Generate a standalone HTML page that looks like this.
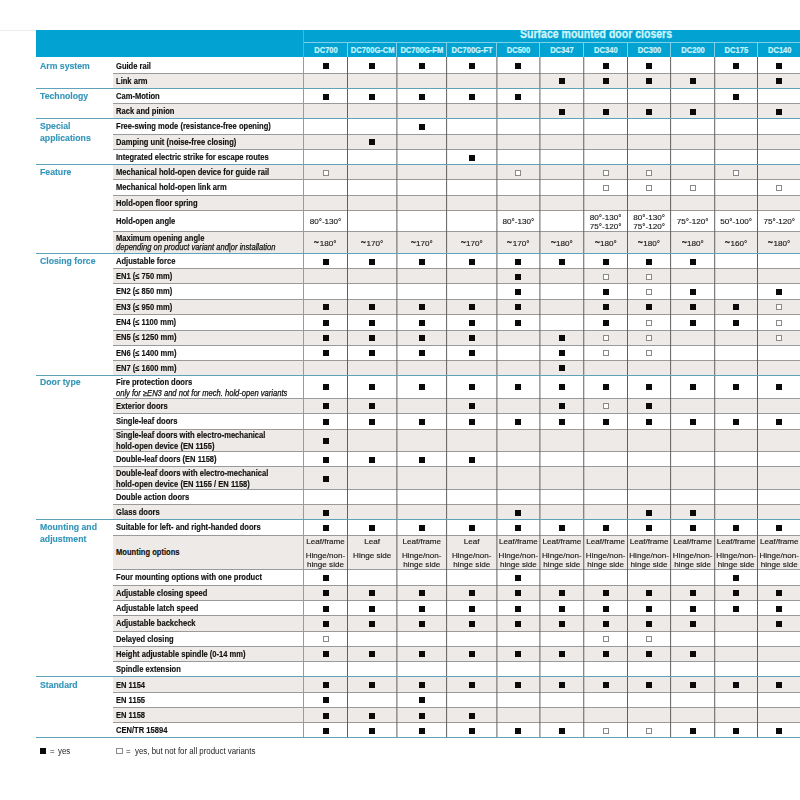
<!DOCTYPE html><html><head><meta charset="utf-8"><style>
*{margin:0;padding:0;box-sizing:border-box}
html,body{width:800px;height:800px;overflow:hidden;background:#fff;font-family:"Liberation Sans",sans-serif}
body{position:relative}
.wrap{left:0;top:0;width:800px;height:800px;filter:blur(0.35px)}
div{position:absolute}
.tl{left:0;top:30px;width:36px;height:1px;background:#ececec}
.hdr{left:36px;top:30px;width:764px;height:27px;background:#02a2d2;overflow:hidden}
.ttl{left:484px;font-weight:bold;font-size:12px;line-height:14px;color:#cdf5fd;-webkit-text-stroke:0.3px #cdf5fd;white-space:nowrap;transform:scaleX(0.877);transform-origin:0 0}
.hv{width:1px;background:#7dd0ea}
.hh{height:1px;background:#7dd0ea}
.dc{text-align:center;font-weight:bold;font-size:8.5px;line-height:10px;color:#cdf5fd;-webkit-text-stroke:0.2px #cdf5fd;white-space:nowrap;transform:scaleX(0.89)}
.gs{left:113px;width:687px;background:#edeae7}
.rl{left:113px;width:687px;height:1px;background:#9a9a9a}
.sl{left:36px;width:764px;height:1px;background:#5fa3ba}
.cl{width:1px;background:#606060}
.bv{width:1px;background:#6eaabc}
.sec{left:39.8px;font-weight:bold;font-size:9.3px;line-height:12px;color:#3595b9;-webkit-text-stroke:0.15px #3595b9;white-space:nowrap;transform:scaleX(0.935);transform-origin:0 0}
.lab{left:115.6px;font-weight:bold;font-size:8.2px;line-height:12px;color:#111;-webkit-text-stroke:0.15px #111;white-space:nowrap;transform:scaleX(0.925);transform-origin:0 0}
.sub{left:115.6px;font-style:italic;font-size:8.2px;line-height:12px;color:#111;-webkit-text-stroke:0.25px #111;white-space:nowrap;transform:scaleX(0.925);transform-origin:0 0}
.sq{width:6px;height:6px;background:#0a0a0a}
.esq{width:6px;height:6px;border:1px solid #8a8a8a;background:#fff}
.tx{text-align:center;font-size:8.1px;line-height:10px;color:#1a1a1a;-webkit-text-stroke:0.15px #1a1a1a;white-space:nowrap}
.tl2{display:inline-block;transform:scale(1.1,1.9);transform-origin:50% 60%;margin-right:0.6px}
.leg{font-size:8.4px;color:#222;white-space:nowrap;line-height:10px;transform:scaleX(0.94);transform-origin:0 0}
</style></head><body><div class="wrap">
<div class="tl"></div>
<div class="hdr"><div class="ttl" style="top:-3.00px">Surface mounted door closers</div></div>
<div class="hv" style="left:303px;top:30px;height:27px"></div>
<div class="hh" style="left:303px;top:42px;width:497px"></div>
<div class="hv" style="left:347px;top:42px;height:15px"></div>
<div class="hv" style="left:396px;top:42px;height:15px"></div>
<div class="hv" style="left:446px;top:42px;height:15px"></div>
<div class="hv" style="left:496px;top:42px;height:15px"></div>
<div class="hv" style="left:539px;top:42px;height:15px"></div>
<div class="hv" style="left:583px;top:42px;height:15px"></div>
<div class="hv" style="left:627px;top:42px;height:15px"></div>
<div class="hv" style="left:670px;top:42px;height:15px"></div>
<div class="hv" style="left:714px;top:42px;height:15px"></div>
<div class="hv" style="left:757px;top:42px;height:15px"></div>
<div class="dc" style="left:303.5px;width:44.0px;top:45.00px">DC700</div>
<div class="dc" style="left:347.5px;width:49.39999999999998px;top:45.00px">DC700G-CM</div>
<div class="dc" style="left:396.9px;width:49.700000000000045px;top:45.00px">DC700G-FM</div>
<div class="dc" style="left:446.6px;width:50.299999999999955px;top:45.00px">DC700G-FT</div>
<div class="dc" style="left:496.9px;width:43.0px;top:45.00px">DC500</div>
<div class="dc" style="left:539.9px;width:43.85000000000002px;top:45.00px">DC347</div>
<div class="dc" style="left:583.75px;width:43.75px;top:45.00px">DC340</div>
<div class="dc" style="left:627.5px;width:43.10000000000002px;top:45.00px">DC300</div>
<div class="dc" style="left:670.6px;width:44.10000000000002px;top:45.00px">DC200</div>
<div class="dc" style="left:714.7px;width:42.799999999999955px;top:45.00px">DC175</div>
<div class="dc" style="left:757.5px;width:43.5px;top:45.00px">DC140</div>
<div class="gs" style="top:73px;height:15px"></div>
<div class="gs" style="top:103px;height:15px"></div>
<div class="gs" style="top:134px;height:15px"></div>
<div class="gs" style="top:164px;height:15px"></div>
<div class="gs" style="top:195px;height:15px"></div>
<div class="gs" style="top:231px;height:22px"></div>
<div class="gs" style="top:268px;height:15px"></div>
<div class="gs" style="top:299px;height:15px"></div>
<div class="gs" style="top:330px;height:15px"></div>
<div class="gs" style="top:360px;height:15px"></div>
<div class="gs" style="top:398px;height:15px"></div>
<div class="gs" style="top:429px;height:22px"></div>
<div class="gs" style="top:466px;height:23px"></div>
<div class="gs" style="top:504px;height:15px"></div>
<div class="gs" style="top:535px;height:34px"></div>
<div class="gs" style="top:585px;height:15px"></div>
<div class="gs" style="top:615px;height:16px"></div>
<div class="gs" style="top:646px;height:15px"></div>
<div class="gs" style="top:676px;height:16px"></div>
<div class="gs" style="top:707px;height:15px"></div>
<div class="rl" style="top:73px"></div>
<div class="rl" style="top:103px"></div>
<div class="rl" style="top:134px"></div>
<div class="rl" style="top:149px"></div>
<div class="rl" style="top:179px"></div>
<div class="rl" style="top:195px"></div>
<div class="rl" style="top:210px"></div>
<div class="rl" style="top:231px"></div>
<div class="rl" style="top:268px"></div>
<div class="rl" style="top:283px"></div>
<div class="rl" style="top:299px"></div>
<div class="rl" style="top:314px"></div>
<div class="rl" style="top:330px"></div>
<div class="rl" style="top:345px"></div>
<div class="rl" style="top:360px"></div>
<div class="rl" style="top:398px"></div>
<div class="rl" style="top:413px"></div>
<div class="rl" style="top:429px"></div>
<div class="rl" style="top:451px"></div>
<div class="rl" style="top:466px"></div>
<div class="rl" style="top:489px"></div>
<div class="rl" style="top:504px"></div>
<div class="rl" style="top:535px"></div>
<div class="rl" style="top:569px"></div>
<div class="rl" style="top:585px"></div>
<div class="rl" style="top:600px"></div>
<div class="rl" style="top:615px"></div>
<div class="rl" style="top:631px"></div>
<div class="rl" style="top:646px"></div>
<div class="rl" style="top:661px"></div>
<div class="rl" style="top:692px"></div>
<div class="rl" style="top:707px"></div>
<div class="rl" style="top:722px"></div>
<div class="cl" style="left:347px;top:57px;height:680px;opacity:1.00"></div>
<div class="cl" style="left:396px;top:57px;height:680px;opacity:0.60"></div>
<div class="cl" style="left:397px;top:57px;height:680px;opacity:0.40"></div>
<div class="cl" style="left:446px;top:57px;height:680px;opacity:0.90"></div>
<div class="cl" style="left:447px;top:57px;height:680px;opacity:0.10"></div>
<div class="cl" style="left:496px;top:57px;height:680px;opacity:0.60"></div>
<div class="cl" style="left:497px;top:57px;height:680px;opacity:0.40"></div>
<div class="cl" style="left:539px;top:57px;height:680px;opacity:0.60"></div>
<div class="cl" style="left:540px;top:57px;height:680px;opacity:0.40"></div>
<div class="cl" style="left:583px;top:57px;height:680px;opacity:0.75"></div>
<div class="cl" style="left:584px;top:57px;height:680px;opacity:0.25"></div>
<div class="cl" style="left:627px;top:57px;height:680px;opacity:1.00"></div>
<div class="cl" style="left:670px;top:57px;height:680px;opacity:0.90"></div>
<div class="cl" style="left:671px;top:57px;height:680px;opacity:0.10"></div>
<div class="cl" style="left:714px;top:57px;height:680px;opacity:0.80"></div>
<div class="cl" style="left:715px;top:57px;height:680px;opacity:0.20"></div>
<div class="cl" style="left:757px;top:57px;height:680px;opacity:1.00"></div>
<div class="bv" style="left:303px;top:30px;height:707px"></div>
<div class="sl" style="top:88px"></div>
<div class="sl" style="top:118px"></div>
<div class="sl" style="top:164px"></div>
<div class="sl" style="top:253px"></div>
<div class="sl" style="top:375px"></div>
<div class="sl" style="top:519px"></div>
<div class="sl" style="top:676px"></div>
<div class="sl" style="top:737px"></div>
<div class="sec" style="top:60.00px">Arm system</div>
<div class="sec" style="top:90.00px">Technology</div>
<div class="sec" style="top:120.00px">Special</div>
<div class="sec" style="top:132.00px">applications</div>
<div class="sec" style="top:166.00px">Feature</div>
<div class="sec" style="top:255.00px">Closing force</div>
<div class="sec" style="top:376.00px">Door type</div>
<div class="sec" style="top:521.00px">Mounting and</div>
<div class="sec" style="top:533.00px">adjustment</div>
<div class="sec" style="top:679.00px">Standard</div>
<div class="lab" style="top:61.00px">Guide rail</div>
<div class="sq" style="left:322.50px;top:62.75px"></div>
<div class="sq" style="left:369.20px;top:62.75px"></div>
<div class="sq" style="left:418.75px;top:62.75px"></div>
<div class="sq" style="left:468.75px;top:62.75px"></div>
<div class="sq" style="left:515.40px;top:62.75px"></div>
<div class="sq" style="left:602.62px;top:62.75px"></div>
<div class="sq" style="left:646.05px;top:62.75px"></div>
<div class="sq" style="left:733.10px;top:62.75px"></div>
<div class="sq" style="left:776.25px;top:62.75px"></div>
<div class="lab" style="top:76.00px">Link arm</div>
<div class="sq" style="left:558.83px;top:78.25px"></div>
<div class="sq" style="left:602.62px;top:78.25px"></div>
<div class="sq" style="left:646.05px;top:78.25px"></div>
<div class="sq" style="left:689.65px;top:78.25px"></div>
<div class="sq" style="left:776.25px;top:78.25px"></div>
<div class="lab" style="top:91.00px">Cam-Motion</div>
<div class="sq" style="left:322.50px;top:93.65px"></div>
<div class="sq" style="left:369.20px;top:93.65px"></div>
<div class="sq" style="left:418.75px;top:93.65px"></div>
<div class="sq" style="left:468.75px;top:93.65px"></div>
<div class="sq" style="left:515.40px;top:93.65px"></div>
<div class="sq" style="left:733.10px;top:93.65px"></div>
<div class="lab" style="top:106.00px">Rack and pinion</div>
<div class="sq" style="left:558.83px;top:108.78px"></div>
<div class="sq" style="left:602.62px;top:108.78px"></div>
<div class="sq" style="left:646.05px;top:108.78px"></div>
<div class="sq" style="left:689.65px;top:108.78px"></div>
<div class="sq" style="left:776.25px;top:108.78px"></div>
<div class="lab" style="top:121.00px">Free-swing mode (resistance-free opening)</div>
<div class="sq" style="left:418.75px;top:124.08px"></div>
<div class="lab" style="top:137.00px">Damping unit (noise-free closing)</div>
<div class="sq" style="left:369.20px;top:139.40px"></div>
<div class="lab" style="top:152.00px">Integrated electric strike for escape routes</div>
<div class="sq" style="left:468.75px;top:154.57px"></div>
<div class="lab" style="top:167.00px">Mechanical hold-open device for guide rail</div>
<div class="esq" style="left:322.50px;top:169.75px"></div>
<div class="esq" style="left:515.40px;top:169.75px"></div>
<div class="esq" style="left:602.62px;top:169.75px"></div>
<div class="esq" style="left:646.05px;top:169.75px"></div>
<div class="esq" style="left:733.10px;top:169.75px"></div>
<div class="lab" style="top:182.00px">Mechanical hold-open link arm</div>
<div class="esq" style="left:602.62px;top:185.00px"></div>
<div class="esq" style="left:646.05px;top:185.00px"></div>
<div class="esq" style="left:689.65px;top:185.00px"></div>
<div class="esq" style="left:776.25px;top:185.00px"></div>
<div class="lab" style="top:198.00px">Hold-open floor spring</div>
<div class="lab" style="top:216.00px">Hold-open angle</div>
<div class="tx" style="left:303.5px;width:44.0px;top:217.00px">80°-130°</div>
<div class="tx" style="left:496.9px;width:43.0px;top:217.00px">80°-130°</div>
<div class="tx" style="left:583.75px;width:43.75px;top:213.00px">80°-130°</div>
<div class="tx" style="left:583.75px;width:43.75px;top:222.00px">75°-120°</div>
<div class="tx" style="left:627.5px;width:43.10000000000002px;top:213.00px">80°-130°</div>
<div class="tx" style="left:627.5px;width:43.10000000000002px;top:222.00px">75°-120°</div>
<div class="tx" style="left:670.6px;width:44.10000000000002px;top:217.00px">75°-120°</div>
<div class="tx" style="left:714.7px;width:42.799999999999955px;top:217.00px">50°-100°</div>
<div class="tx" style="left:757.5px;width:43.5px;top:217.00px">75°-120°</div>
<div class="lab" style="top:233.00px">Maximum opening angle</div>
<div class="sub" style="top:242.00px">depending on product variant and|or installation</div>
<div class="tx" style="left:303.5px;width:44.0px;top:239.00px"><span class="tl2">~</span>180°</div>
<div class="tx" style="left:347.5px;width:49.39999999999998px;top:239.00px"><span class="tl2">~</span>170°</div>
<div class="tx" style="left:396.9px;width:49.700000000000045px;top:239.00px"><span class="tl2">~</span>170°</div>
<div class="tx" style="left:446.6px;width:50.299999999999955px;top:239.00px"><span class="tl2">~</span>170°</div>
<div class="tx" style="left:496.9px;width:43.0px;top:239.00px"><span class="tl2">~</span>170°</div>
<div class="tx" style="left:539.9px;width:43.85000000000002px;top:239.00px"><span class="tl2">~</span>180°</div>
<div class="tx" style="left:583.75px;width:43.75px;top:239.00px"><span class="tl2">~</span>180°</div>
<div class="tx" style="left:627.5px;width:43.10000000000002px;top:239.00px"><span class="tl2">~</span>180°</div>
<div class="tx" style="left:670.6px;width:44.10000000000002px;top:239.00px"><span class="tl2">~</span>180°</div>
<div class="tx" style="left:714.7px;width:42.799999999999955px;top:239.00px"><span class="tl2">~</span>160°</div>
<div class="tx" style="left:757.5px;width:43.5px;top:239.00px"><span class="tl2">~</span>180°</div>
<div class="lab" style="top:256.00px">Adjustable force</div>
<div class="sq" style="left:322.50px;top:258.52px"></div>
<div class="sq" style="left:369.20px;top:258.52px"></div>
<div class="sq" style="left:418.75px;top:258.52px"></div>
<div class="sq" style="left:468.75px;top:258.52px"></div>
<div class="sq" style="left:515.40px;top:258.52px"></div>
<div class="sq" style="left:558.83px;top:258.52px"></div>
<div class="sq" style="left:602.62px;top:258.52px"></div>
<div class="sq" style="left:646.05px;top:258.52px"></div>
<div class="sq" style="left:689.65px;top:258.52px"></div>
<div class="lab" style="top:271.00px">EN1 (≤ 750 mm)</div>
<div class="sq" style="left:515.40px;top:273.75px"></div>
<div class="esq" style="left:602.62px;top:273.75px"></div>
<div class="esq" style="left:646.05px;top:273.75px"></div>
<div class="lab" style="top:286.00px">EN2 (≤ 850 mm)</div>
<div class="sq" style="left:515.40px;top:289.07px"></div>
<div class="sq" style="left:602.62px;top:289.07px"></div>
<div class="esq" style="left:646.05px;top:289.07px"></div>
<div class="sq" style="left:689.65px;top:289.07px"></div>
<div class="sq" style="left:776.25px;top:289.07px"></div>
<div class="lab" style="top:302.00px">EN3 (≤ 950 mm)</div>
<div class="sq" style="left:322.50px;top:304.40px"></div>
<div class="sq" style="left:369.20px;top:304.40px"></div>
<div class="sq" style="left:418.75px;top:304.40px"></div>
<div class="sq" style="left:468.75px;top:304.40px"></div>
<div class="sq" style="left:515.40px;top:304.40px"></div>
<div class="sq" style="left:602.62px;top:304.40px"></div>
<div class="sq" style="left:646.05px;top:304.40px"></div>
<div class="sq" style="left:689.65px;top:304.40px"></div>
<div class="sq" style="left:733.10px;top:304.40px"></div>
<div class="esq" style="left:776.25px;top:304.40px"></div>
<div class="lab" style="top:317.00px">EN4 (≤ 1100 mm)</div>
<div class="sq" style="left:322.50px;top:319.70px"></div>
<div class="sq" style="left:369.20px;top:319.70px"></div>
<div class="sq" style="left:418.75px;top:319.70px"></div>
<div class="sq" style="left:468.75px;top:319.70px"></div>
<div class="sq" style="left:515.40px;top:319.70px"></div>
<div class="sq" style="left:602.62px;top:319.70px"></div>
<div class="esq" style="left:646.05px;top:319.70px"></div>
<div class="sq" style="left:689.65px;top:319.70px"></div>
<div class="sq" style="left:733.10px;top:319.70px"></div>
<div class="esq" style="left:776.25px;top:319.70px"></div>
<div class="lab" style="top:332.00px">EN5 (≤ 1250 mm)</div>
<div class="sq" style="left:322.50px;top:335.00px"></div>
<div class="sq" style="left:369.20px;top:335.00px"></div>
<div class="sq" style="left:418.75px;top:335.00px"></div>
<div class="sq" style="left:468.75px;top:335.00px"></div>
<div class="sq" style="left:558.83px;top:335.00px"></div>
<div class="esq" style="left:602.62px;top:335.00px"></div>
<div class="esq" style="left:646.05px;top:335.00px"></div>
<div class="esq" style="left:776.25px;top:335.00px"></div>
<div class="lab" style="top:348.00px">EN6 (≤ 1400 mm)</div>
<div class="sq" style="left:322.50px;top:350.12px"></div>
<div class="sq" style="left:369.20px;top:350.12px"></div>
<div class="sq" style="left:418.75px;top:350.12px"></div>
<div class="sq" style="left:468.75px;top:350.12px"></div>
<div class="sq" style="left:558.83px;top:350.12px"></div>
<div class="esq" style="left:602.62px;top:350.12px"></div>
<div class="esq" style="left:646.05px;top:350.12px"></div>
<div class="lab" style="top:363.00px">EN7 (≤ 1600 mm)</div>
<div class="sq" style="left:558.83px;top:365.32px"></div>
<div class="lab" style="top:377.00px">Fire protection doors</div>
<div class="sub" style="top:388.00px">only for ≥EN3 and not for mech. hold-open variants</div>
<div class="sq" style="left:322.50px;top:384.25px"></div>
<div class="sq" style="left:369.20px;top:384.25px"></div>
<div class="sq" style="left:418.75px;top:384.25px"></div>
<div class="sq" style="left:468.75px;top:384.25px"></div>
<div class="sq" style="left:515.40px;top:384.25px"></div>
<div class="sq" style="left:558.83px;top:384.25px"></div>
<div class="sq" style="left:602.62px;top:384.25px"></div>
<div class="sq" style="left:646.05px;top:384.25px"></div>
<div class="sq" style="left:689.65px;top:384.25px"></div>
<div class="sq" style="left:733.10px;top:384.25px"></div>
<div class="sq" style="left:776.25px;top:384.25px"></div>
<div class="lab" style="top:401.00px">Exterior doors</div>
<div class="sq" style="left:322.50px;top:403.30px"></div>
<div class="sq" style="left:369.20px;top:403.30px"></div>
<div class="sq" style="left:468.75px;top:403.30px"></div>
<div class="sq" style="left:558.83px;top:403.30px"></div>
<div class="esq" style="left:602.62px;top:403.30px"></div>
<div class="sq" style="left:646.05px;top:403.30px"></div>
<div class="lab" style="top:416.00px">Single-leaf doors</div>
<div class="sq" style="left:322.50px;top:418.80px"></div>
<div class="sq" style="left:369.20px;top:418.80px"></div>
<div class="sq" style="left:418.75px;top:418.80px"></div>
<div class="sq" style="left:468.75px;top:418.80px"></div>
<div class="sq" style="left:515.40px;top:418.80px"></div>
<div class="sq" style="left:558.83px;top:418.80px"></div>
<div class="sq" style="left:602.62px;top:418.80px"></div>
<div class="sq" style="left:646.05px;top:418.80px"></div>
<div class="sq" style="left:689.65px;top:418.80px"></div>
<div class="sq" style="left:733.10px;top:418.80px"></div>
<div class="sq" style="left:776.25px;top:418.80px"></div>
<div class="lab" style="top:430.00px">Single-leaf doors with electro-mechanical</div>
<div class="lab" style="top:441.00px">hold-open device (EN 1155)</div>
<div class="sq" style="left:322.50px;top:437.80px"></div>
<div class="lab" style="top:454.00px">Double-leaf doors (EN 1158)</div>
<div class="sq" style="left:322.50px;top:456.70px"></div>
<div class="sq" style="left:369.20px;top:456.70px"></div>
<div class="sq" style="left:418.75px;top:456.70px"></div>
<div class="sq" style="left:468.75px;top:456.70px"></div>
<div class="lab" style="top:468.00px">Double-leaf doors with electro-mechanical</div>
<div class="lab" style="top:479.00px">hold-open device (EN 1155 / EN 1158)</div>
<div class="sq" style="left:322.50px;top:475.65px"></div>
<div class="lab" style="top:492.00px">Double action doors</div>
<div class="lab" style="top:507.00px">Glass doors</div>
<div class="sq" style="left:322.50px;top:509.65px"></div>
<div class="sq" style="left:515.40px;top:509.65px"></div>
<div class="sq" style="left:646.05px;top:509.65px"></div>
<div class="sq" style="left:689.65px;top:509.65px"></div>
<div class="lab" style="top:522.00px">Suitable for left- and right-handed doors</div>
<div class="sq" style="left:322.50px;top:525.00px"></div>
<div class="sq" style="left:369.20px;top:525.00px"></div>
<div class="sq" style="left:418.75px;top:525.00px"></div>
<div class="sq" style="left:468.75px;top:525.00px"></div>
<div class="sq" style="left:515.40px;top:525.00px"></div>
<div class="sq" style="left:558.83px;top:525.00px"></div>
<div class="sq" style="left:602.62px;top:525.00px"></div>
<div class="sq" style="left:646.05px;top:525.00px"></div>
<div class="sq" style="left:689.65px;top:525.00px"></div>
<div class="sq" style="left:733.10px;top:525.00px"></div>
<div class="sq" style="left:776.25px;top:525.00px"></div>
<div class="lab" style="top:547.00px">Mounting options</div>
<div class="tx" style="left:303.5px;width:44.0px;top:537.00px">Leaf/frame</div>
<div class="tx" style="left:303.5px;width:44.0px;top:551.00px">Hinge/non-</div>
<div class="tx" style="left:303.5px;width:44.0px;top:560.00px">hinge side</div>
<div class="tx" style="left:347.5px;width:49.39999999999998px;top:537.00px">Leaf</div>
<div class="tx" style="left:347.5px;width:49.39999999999998px;top:551.00px">Hinge side</div>
<div class="tx" style="left:396.9px;width:49.700000000000045px;top:537.00px">Leaf/frame</div>
<div class="tx" style="left:396.9px;width:49.700000000000045px;top:551.00px">Hinge/non-</div>
<div class="tx" style="left:396.9px;width:49.700000000000045px;top:560.00px">hinge side</div>
<div class="tx" style="left:446.6px;width:50.299999999999955px;top:537.00px">Leaf</div>
<div class="tx" style="left:446.6px;width:50.299999999999955px;top:551.00px">Hinge/non-</div>
<div class="tx" style="left:446.6px;width:50.299999999999955px;top:560.00px">hinge side</div>
<div class="tx" style="left:496.9px;width:43.0px;top:537.00px">Leaf/frame</div>
<div class="tx" style="left:496.9px;width:43.0px;top:551.00px">Hinge/non-</div>
<div class="tx" style="left:496.9px;width:43.0px;top:560.00px">hinge side</div>
<div class="tx" style="left:539.9px;width:43.85000000000002px;top:537.00px">Leaf/frame</div>
<div class="tx" style="left:539.9px;width:43.85000000000002px;top:551.00px">Hinge/non-</div>
<div class="tx" style="left:539.9px;width:43.85000000000002px;top:560.00px">hinge side</div>
<div class="tx" style="left:583.75px;width:43.75px;top:537.00px">Leaf/frame</div>
<div class="tx" style="left:583.75px;width:43.75px;top:551.00px">Hinge/non-</div>
<div class="tx" style="left:583.75px;width:43.75px;top:560.00px">hinge side</div>
<div class="tx" style="left:627.5px;width:43.10000000000002px;top:537.00px">Leaf/frame</div>
<div class="tx" style="left:627.5px;width:43.10000000000002px;top:551.00px">Hinge/non-</div>
<div class="tx" style="left:627.5px;width:43.10000000000002px;top:560.00px">hinge side</div>
<div class="tx" style="left:670.6px;width:44.10000000000002px;top:537.00px">Leaf/frame</div>
<div class="tx" style="left:670.6px;width:44.10000000000002px;top:551.00px">Hinge/non-</div>
<div class="tx" style="left:670.6px;width:44.10000000000002px;top:560.00px">hinge side</div>
<div class="tx" style="left:714.7px;width:42.799999999999955px;top:537.00px">Leaf/frame</div>
<div class="tx" style="left:714.7px;width:42.799999999999955px;top:551.00px">Hinge/non-</div>
<div class="tx" style="left:714.7px;width:42.799999999999955px;top:560.00px">hinge side</div>
<div class="tx" style="left:757.5px;width:43.5px;top:537.00px">Leaf/frame</div>
<div class="tx" style="left:757.5px;width:43.5px;top:551.00px">Hinge/non-</div>
<div class="tx" style="left:757.5px;width:43.5px;top:560.00px">hinge side</div>
<div class="lab" style="top:572.00px">Four mounting options with one product</div>
<div class="sq" style="left:322.50px;top:574.77px"></div>
<div class="sq" style="left:515.40px;top:574.77px"></div>
<div class="sq" style="left:733.10px;top:574.77px"></div>
<div class="lab" style="top:588.00px">Adjustable closing speed</div>
<div class="sq" style="left:322.50px;top:590.33px"></div>
<div class="sq" style="left:369.20px;top:590.33px"></div>
<div class="sq" style="left:418.75px;top:590.33px"></div>
<div class="sq" style="left:468.75px;top:590.33px"></div>
<div class="sq" style="left:515.40px;top:590.33px"></div>
<div class="sq" style="left:558.83px;top:590.33px"></div>
<div class="sq" style="left:602.62px;top:590.33px"></div>
<div class="sq" style="left:646.05px;top:590.33px"></div>
<div class="sq" style="left:689.65px;top:590.33px"></div>
<div class="sq" style="left:733.10px;top:590.33px"></div>
<div class="sq" style="left:776.25px;top:590.33px"></div>
<div class="lab" style="top:603.00px">Adjustable latch speed</div>
<div class="sq" style="left:322.50px;top:605.50px"></div>
<div class="sq" style="left:369.20px;top:605.50px"></div>
<div class="sq" style="left:418.75px;top:605.50px"></div>
<div class="sq" style="left:468.75px;top:605.50px"></div>
<div class="sq" style="left:515.40px;top:605.50px"></div>
<div class="sq" style="left:558.83px;top:605.50px"></div>
<div class="sq" style="left:602.62px;top:605.50px"></div>
<div class="sq" style="left:646.05px;top:605.50px"></div>
<div class="sq" style="left:689.65px;top:605.50px"></div>
<div class="sq" style="left:733.10px;top:605.50px"></div>
<div class="sq" style="left:776.25px;top:605.50px"></div>
<div class="lab" style="top:618.00px">Adjustable backcheck</div>
<div class="sq" style="left:322.50px;top:620.92px"></div>
<div class="sq" style="left:369.20px;top:620.92px"></div>
<div class="sq" style="left:418.75px;top:620.92px"></div>
<div class="sq" style="left:468.75px;top:620.92px"></div>
<div class="sq" style="left:515.40px;top:620.92px"></div>
<div class="sq" style="left:558.83px;top:620.92px"></div>
<div class="sq" style="left:602.62px;top:620.92px"></div>
<div class="sq" style="left:646.05px;top:620.92px"></div>
<div class="sq" style="left:689.65px;top:620.92px"></div>
<div class="sq" style="left:776.25px;top:620.92px"></div>
<div class="lab" style="top:634.00px">Delayed closing</div>
<div class="esq" style="left:322.50px;top:636.25px"></div>
<div class="esq" style="left:602.62px;top:636.25px"></div>
<div class="esq" style="left:646.05px;top:636.25px"></div>
<div class="lab" style="top:649.00px">Height adjustable spindle (0-14 mm)</div>
<div class="sq" style="left:322.50px;top:651.38px"></div>
<div class="sq" style="left:369.20px;top:651.38px"></div>
<div class="sq" style="left:418.75px;top:651.38px"></div>
<div class="sq" style="left:468.75px;top:651.38px"></div>
<div class="sq" style="left:515.40px;top:651.38px"></div>
<div class="sq" style="left:558.83px;top:651.38px"></div>
<div class="sq" style="left:602.62px;top:651.38px"></div>
<div class="sq" style="left:646.05px;top:651.38px"></div>
<div class="sq" style="left:689.65px;top:651.38px"></div>
<div class="lab" style="top:664.00px">Spindle extension</div>
<div class="lab" style="top:680.00px">EN 1154</div>
<div class="sq" style="left:322.50px;top:682.15px"></div>
<div class="sq" style="left:369.20px;top:682.15px"></div>
<div class="sq" style="left:418.75px;top:682.15px"></div>
<div class="sq" style="left:468.75px;top:682.15px"></div>
<div class="sq" style="left:515.40px;top:682.15px"></div>
<div class="sq" style="left:558.83px;top:682.15px"></div>
<div class="sq" style="left:602.62px;top:682.15px"></div>
<div class="sq" style="left:646.05px;top:682.15px"></div>
<div class="sq" style="left:689.65px;top:682.15px"></div>
<div class="sq" style="left:733.10px;top:682.15px"></div>
<div class="sq" style="left:776.25px;top:682.15px"></div>
<div class="lab" style="top:695.00px">EN 1155</div>
<div class="sq" style="left:322.50px;top:697.45px"></div>
<div class="sq" style="left:418.75px;top:697.45px"></div>
<div class="lab" style="top:710.00px">EN 1158</div>
<div class="sq" style="left:322.50px;top:712.50px"></div>
<div class="sq" style="left:369.20px;top:712.50px"></div>
<div class="sq" style="left:418.75px;top:712.50px"></div>
<div class="sq" style="left:468.75px;top:712.50px"></div>
<div class="lab" style="top:725.00px">CEN/TR 15894</div>
<div class="sq" style="left:322.50px;top:727.70px"></div>
<div class="sq" style="left:369.20px;top:727.70px"></div>
<div class="sq" style="left:418.75px;top:727.70px"></div>
<div class="sq" style="left:468.75px;top:727.70px"></div>
<div class="sq" style="left:515.40px;top:727.70px"></div>
<div class="sq" style="left:558.83px;top:727.70px"></div>
<div class="esq" style="left:602.62px;top:727.70px"></div>
<div class="esq" style="left:646.05px;top:727.70px"></div>
<div class="sq" style="left:689.65px;top:727.70px"></div>
<div class="sq" style="left:733.10px;top:727.70px"></div>
<div class="sq" style="left:776.25px;top:727.70px"></div>

<div class="sq" style="left:40px;top:748px;width:6px;height:6px"></div>
<div class="leg" style="left:49.6px;top:746px">=</div>
<div class="leg" style="left:58.2px;top:746px">yes</div>
<div class="esq" style="left:116px;top:747.5px;width:7px;height:6px"></div>
<div class="leg" style="left:126px;top:746px">=</div>
<div class="leg" style="left:134.5px;top:746px">yes, but not for all product variants</div>

</div></body></html>
